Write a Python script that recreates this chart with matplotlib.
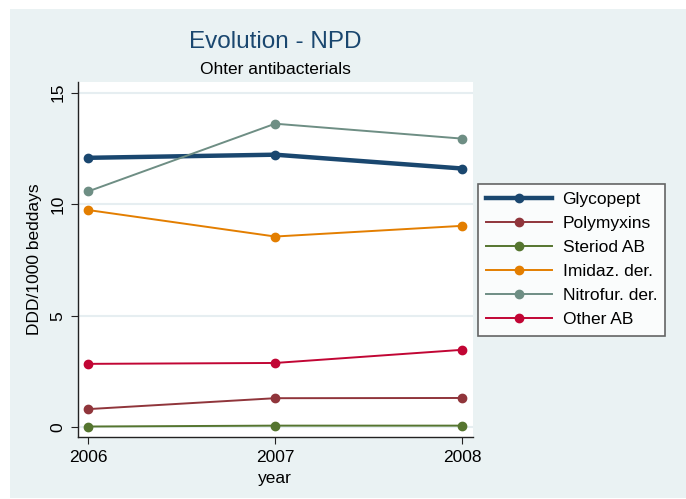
import matplotlib
matplotlib.use('Agg')
import matplotlib.pyplot as plt
from matplotlib.patches import Rectangle

plt.rcParams['font.family'] = ['Liberation Sans', 'DejaVu Sans']

years = [2006, 2007, 2008]
series_names = ['Glycopept', 'Polymyxins', 'Steriod AB', 'Imidaz. der.', 'Nitrofur. der.', 'Other AB']
glycopept = [12.08, 12.22, 11.6]
polymyxins = [0.81, 1.3, 1.31]
steriod = [0.03, 0.07, 0.07]
imidaz = [9.74, 8.55, 9.03]
nitrofur = [10.57, 13.61, 12.94]
other_ab = [2.84, 2.88, 3.47]
series_vals = [glycopept, polymyxins, steriod, imidaz, nitrofur, other_ab]
colors = ['#1a476f', '#90353b', '#55752f', '#e37e00', '#6e8e84', '#c10534']
widths = [3.2, 1.4, 1.4, 1.4, 1.4, 1.4]

W, H = 686, 499
fig = plt.figure(figsize=(W / 100, H / 100), dpi=100, facecolor='white')
fig.patches.append(Rectangle((10 / W, 1 / H), 1, 1 - 10 / H, transform=fig.transFigure,
                             facecolor='#eaf2f3', edgecolor='none', zorder=-10))

ax = fig.add_axes([78 / W, 1 - 437 / H, (473 - 78) / W, (437 - 82) / H])
ax.set_facecolor('white')

for name, vals, c, lw in zip(series_names, series_vals, colors, widths):
    ax.plot(years, vals, color=c, lw=lw, marker='o', ms=6, label=name)

ax.set_xlim(2005.947, 2008.057)
ax.set_ylim(-0.44, 15.48)
ax.set_xticks(years)
ax.set_xticklabels([str(y) for y in years])
ax.set_yticks([0, 5, 10, 15])
ax.set_yticklabels(['0', '5', '10', '15'], rotation=90, va='center')
ax.grid(axis='y', color='#e6eef1', lw=1.5)
ax.set_axisbelow(True)
for s in ['top', 'right']:
    ax.spines[s].set_visible(False)
for s in ['left', 'bottom']:
    ax.spines[s].set_color('#222222')
    ax.spines[s].set_linewidth(1.0)
ax.tick_params(direction='out', length=5, width=0.8, color='#222222', labelsize=12.5)
ax.tick_params(axis='x', pad=4.5)
ax.tick_params(axis='y', pad=4)

ax.set_ylabel('DDD/1000 beddays', fontsize=12.5, labelpad=6)
fig.text(275 / W, 1 - 478 / H, 'year', ha='center', va='center', fontsize=12.5)

fig.text(275 / W, 1 - 42 / H, 'Evolution - NPD', ha='center', va='center',
         fontsize=17.5, color='#1a476f')
fig.text(275 / W, 1 - 69 / H, 'Ohter antibacterials', ha='center', va='center',
         fontsize=12.5, color='black')

leg = fig.legend(loc='upper left', bbox_to_anchor=(478 / W, 1 - 184 / H),
                 frameon=True, fancybox=False, fontsize=12.5, handlelength=3.8,
                 labelspacing=0.51, borderpad=0.47, borderaxespad=0, handletextpad=0.6)
leg.get_frame().set_edgecolor('#404040')
leg.get_frame().set_linewidth(1.2)

fig.savefig('out.png', dpi=100, facecolor=fig.get_facecolor())
